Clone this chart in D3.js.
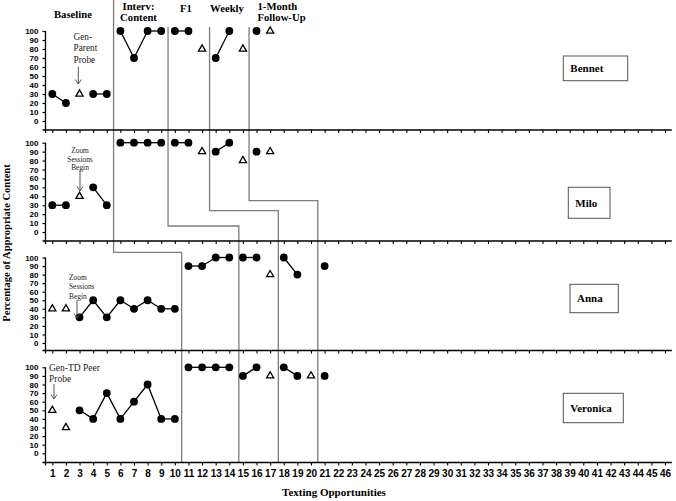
<!DOCTYPE html>
<html>
<head>
<meta charset="utf-8">
<script src="https://cdn.jsdelivr.net/npm/d3@7"></script>
<style>
  body { margin: 0; background: #fff; }
  svg { display: block; font-family: "Liberation Serif", "Times New Roman", serif; }
  .tick text { font-weight: bold; }
</style>
</head>
<body>
<svg id="chart" width="676" height="501"></svg>
<script>
const WIDTH = 676;
const HEIGHT = 501;

const SESSIONS = d3.range(1, 47);
const PARTICIPANTS = ["Bennet", "Milo", "Anna", "Veronica"];
const Y_TICKS = d3.range(0, 101, 10);

// [session, % appropriate content]
const BENNET_DOTS = [[1, 30], [2, 20], [4, 30], [5, 30], [6, 100], [7, 70], [8, 100], [9, 100], [10, 100], [11, 100], [13, 70], [14, 100], [16, 100]];
const BENNET_PROBES = [[3, 30], [12, 80], [15, 80], [17, 100]];
const MILO_DOTS = [[1, 30], [2, 30], [4, 50], [5, 30], [6, 100], [7, 100], [8, 100], [9, 100], [10, 100], [11, 100], [13, 90], [14, 100], [16, 90]];
const MILO_PROBES = [[3, 40], [12, 90], [15, 80], [17, 90]];
const ANNA_DOTS = [[3, 30], [4, 50], [5, 30], [6, 50], [7, 40], [8, 50], [9, 40], [10, 40], [11, 90], [12, 90], [13, 100], [14, 100], [15, 100], [16, 100], [18, 100], [19, 80], [21, 90]];
const ANNA_PROBES = [[1, 40], [2, 40], [17, 80]];
const VERONICA_DOTS = [[3, 50], [4, 40], [5, 70], [6, 40], [7, 60], [8, 80], [9, 40], [10, 40], [11, 100], [12, 100], [13, 100], [14, 100], [15, 90], [16, 100], [18, 100], [19, 90], [21, 90]];
const VERONICA_PROBES = [[1, 50], [2, 30], [17, 90], [20, 90]];

const DOTS = [BENNET_DOTS, MILO_DOTS, ANNA_DOTS, VERONICA_DOTS];
const PROBES = [BENNET_PROBES, MILO_PROBES, ANNA_PROBES, VERONICA_PROBES];

// phase changes: upper tiers (Bennet, Milo) and lower tiers (Anna, Veronica)
const PHASE_UPPER = [5.5, 9.5, 12.55, 15.45];
const PHASE_LOWER = [10.5, 14.7, 17.6, 20.5];
const PHASE_LABELS = ["Baseline", "Interv:\nContent", "F1", "Weekly", "1-Month\nFollow-Up"];

// layout of the four tiers (pixel rows)
const PANEL_LAYOUT = [
  { top: 31, zero: 121, axis: 130 },
  { top: 142.7, zero: 232, axis: 241 },
  { top: 257.5, zero: 343, axis: 350.5 },
  { top: 367.3, zero: 453.3, axis: 462.5 }
];
const STEP_ROWS = [252.3, 226, 210.7, 200.7];
const PHASE_START = [0, 27, 27, 27];
const NAME_BOXES = [
  { x: 563.3, y: 56, w: 64.4, h: 24.7 },
  { x: 568.3, y: 187.3, w: 41.7, h: 31 },
  { x: 570, y: 284.3, w: 48.3, h: 28.4 },
  { x: 563.3, y: 393.3, w: 60, h: 29.4 }
];

const svg = d3.select("#chart");

const x = d3.scaleLinear().domain([0.5, 46.5]).range([45.5, 671.8]);
const yScales = PANEL_LAYOUT.map((p) => d3.scaleLinear().domain([0, 100]).range([p.zero, p.top]));

// phase change lines (staircase)
const phaseLayer = svg.append("g");
PHASE_UPPER.forEach((u, i) => {
  const bottom = PANEL_LAYOUT[3].axis;
  const pts = [
    [x(u), PHASE_START[i]],
    [x(u), STEP_ROWS[i]],
    [x(PHASE_LOWER[i]), STEP_ROWS[i]],
    [x(PHASE_LOWER[i]), bottom]
  ];
  phaseLayer.append("path")
    .attr("d", d3.line()(pts))
    .attr("fill", "none")
    .attr("stroke", "#7d7d7d")
    .attr("stroke-width", 1.3);
});

// phase labels
const labelPos = [
  { x: 73, y: [18] },
  { x: 138.5, y: [9.5, 20.5] },
  { x: 186, y: [11.5] },
  { x: 227, y: [11.5] },
  { x: 257.5, y: [9.5, 20.5], anchor: "start" }
];
PHASE_LABELS.forEach((lab, i) => {
  const pos = labelPos[i];
  lab.split("\n").forEach((line, j) => {
    svg.append("text")
      .attr("x", pos.x)
      .attr("y", pos.y[j])
      .attr("text-anchor", pos.anchor || "middle")
      .attr("font-size", "10.7px")
      .attr("font-weight", "bold")
      .text(line);
  });
});

PARTICIPANTS.forEach((name, pi) => {
  const p = PANEL_LAYOUT[pi];
  const y = yScales[pi];
  const g = svg.append("g");
  const breaks = pi < 2 ? PHASE_UPPER : PHASE_LOWER;

  // y axis
  const yAxis = g.append("g")
    .attr("transform", `translate(${x.range()[0]},0)`)
    .call(d3.axisLeft(y).tickValues(Y_TICKS).tickSize(3).tickPadding(4));
  yAxis.select(".domain").remove();
  yAxis.selectAll("text").attr("font-size", "8px").attr("font-family", "inherit");
  yAxis.selectAll("line").attr("stroke-width", 1.2);
  g.append("line")
    .attr("x1", x.range()[0]).attr("x2", x.range()[0])
    .attr("y1", p.top).attr("y2", p.axis + 3)
    .attr("stroke", "#000").attr("stroke-width", 1.3);

  // x axis
  const xAxis = g.append("g")
    .attr("transform", `translate(0,${p.axis})`)
    .call(d3.axisBottom(x).tickValues(SESSIONS).tickSize(3).tickSizeOuter(0).tickPadding(4)
      .tickFormat(pi === 3 ? d3.format("d") : () => ""));
  xAxis.select(".domain").attr("stroke-width", 1.3).attr("d", `M${x.range()[0] - 3},0H${x.range()[1]}`);
  xAxis.selectAll("text").attr("font-size", "10px").attr("font-family", "inherit");
  xAxis.selectAll("line").attr("stroke-width", 1.1);

  // connecting lines within phases
  const dots = DOTS[pi];
  const segs = [];
  for (let k = 1; k < dots.length; k++) {
    const a = dots[k - 1], b = dots[k];
    const crosses = breaks.some((br) => br > a[0] && br < b[0]);
    if (b[0] - a[0] === 1 && !crosses) segs.push([a, b]);
  }
  g.selectAll("line.seg")
    .data(segs)
    .join("line")
    .attr("class", "seg")
    .attr("x1", (d) => x(d[0][0])).attr("y1", (d) => y(d[0][1]))
    .attr("x2", (d) => x(d[1][0])).attr("y2", (d) => y(d[1][1]))
    .attr("stroke", "#000").attr("stroke-width", 1.3);

  g.selectAll("circle.dot")
    .data(dots)
    .join("circle")
    .attr("class", "dot")
    .attr("cx", (d) => x(d[0]))
    .attr("cy", (d) => y(d[1]))
    .attr("r", 3.9)
    .attr("fill", "#000");

  g.selectAll("path.probe")
    .data(PROBES[pi])
    .join("path")
    .attr("class", "probe")
    .attr("transform", (d) => `translate(${x(d[0])},${y(d[1])})`)
    .attr("d", d3.symbol(d3.symbolTriangle, 22))
    .attr("fill", "#fff")
    .attr("stroke", "#000")
    .attr("stroke-width", 1.3);

  // name box
  const nb = NAME_BOXES[pi];
  g.append("rect")
    .attr("x", nb.x).attr("y", nb.y).attr("width", nb.w).attr("height", nb.h)
    .attr("fill", "#fff").attr("stroke", "#555").attr("stroke-width", 1);
  g.append("text")
    .attr("x", nb.x + 7)
    .attr("y", nb.y + nb.h / 2 + 3.8)
    .attr("font-size", "11px")
    .attr("font-weight", "bold")
    .text(name);
});

// annotations
function note(lines, xPos, y0, dy, size, anchor, weight) {
  lines.forEach((t, i) => {
    svg.append("text")
      .attr("x", xPos)
      .attr("y", y0 + i * dy)
      .attr("text-anchor", anchor)
      .attr("font-size", size)
      .attr("font-weight", weight)
      .attr("fill", "#222")
      .text(t);
  });
}
function arrow(xPos, y1, y2) {
  svg.append("path")
    .attr("d", `M${xPos},${y1}V${y2}M${xPos - 3},${y2 - 4.5}L${xPos},${y2}L${xPos + 3},${y2 - 4.5}`)
    .attr("fill", "none")
    .attr("stroke", "#444")
    .attr("stroke-width", 0.9);
}

note(["Gen-", "Parent", "Probe"], 73.5, 39.5, 11.7, "9.3px", "start", "normal");
arrow(78.3, 66.5, 84);
note(["Zoom", "Sessions", "Begin"], 80, 153, 8.5, "7.4px", "middle", "normal");
arrow(80, 170, 191);
note(["Zoom", "Sessions", "Begin"], 69, 280, 9.3, "7.4px", "start", "normal");
arrow(77, 300, 318);
note(["Gen-TD Peer", "Probe"], 49, 370.5, 11.7, "9.5px", "start", "normal");
arrow(54, 384, 399);

// axis titles
svg.append("text")
  .attr("x", 334)
  .attr("y", 496)
  .attr("text-anchor", "middle")
  .attr("font-size", "11px")
  .attr("font-weight", "bold")
  .text("Texting Opportunities");

svg.append("text")
  .attr("transform", "translate(10,243) rotate(-90)")
  .attr("text-anchor", "middle")
  .attr("font-size", "10.5px")
  .attr("font-weight", "bold")
  .text("Percentage of Appropriate Content");
</script>
</body>
</html>
